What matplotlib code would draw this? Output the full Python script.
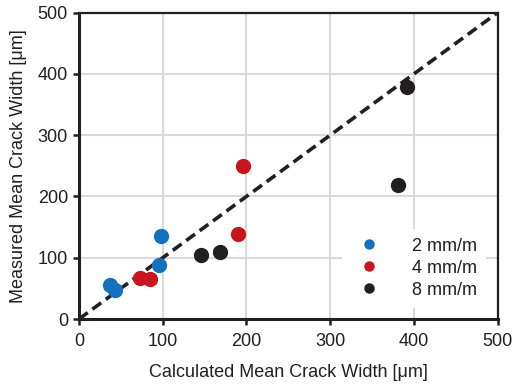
import matplotlib
matplotlib.use("Agg")
import matplotlib.pyplot as plt

plt.rcParams['font.family'] = ['Liberation Sans', 'DejaVu Sans']

# calculated vs measured mean crack width [um]
calc_2 = [37, 43, 98, 95]
meas_2 = [56, 47, 136, 88]
calc_4 = [73, 85, 190, 196]
meas_4 = [67, 65, 138, 249]
calc_8 = [146, 169, 381, 392]
meas_8 = [105, 109, 219, 379]

labels = ['2 mm/m', '4 mm/m', '8 mm/m']
colors = ['#1471bd', '#c8161f', '#231f20']

fig = plt.figure(figsize=(5.14, 3.85), dpi=100)
ax = fig.add_axes([0.1537, 0.1714, 0.8143, 0.7956])

ax.plot([0, 500], [0, 500], color='#231f20', lw=2.6, ls=(0, (3, 1.6)), zorder=2)

for cx, my, lab, c in zip([calc_2, calc_4, calc_8], [meas_2, meas_4, meas_8], labels, colors):
    ax.plot(cx, my, 'o', color=c, ms=10, label=lab, zorder=3, clip_on=False)

ax.set_xlim(0, 500)
ax.set_ylim(0, 500)
ax.set_xticks([0, 100, 200, 300, 400, 500])
ax.set_yticks([0, 100, 200, 300, 400, 500])
ax.grid(True, color='#d9d9d9', lw=1.5, zorder=0)
ax.set_axisbelow(True)

for side in ['left', 'bottom']:
    ax.spines[side].set_linewidth(2.2)
for side in ['top', 'right']:
    ax.spines[side].set_linewidth(1.6)
for s in ax.spines.values():
    s.set_color('#231f20')

ax.tick_params(direction='out', length=4, width=1.8, color='#231f20',
               labelsize=13, labelcolor='#231f20', pad=4)
ax.tick_params(axis='x', pad=6)

ax.set_xlabel('Calculated Mean Crack Width [μm]', fontsize=13, color='#231f20', labelpad=10)
ax.set_ylabel('Measured Mean Crack Width [μm]', fontsize=13, color='#231f20', labelpad=8)

leg = ax.legend(loc='center', bbox_to_anchor=(0.80, 0.166), frameon=True,
                framealpha=1, edgecolor='none', facecolor='white', markerscale=0.65,
                fontsize=13, handletextpad=1.4, labelspacing=0.28, borderpad=0.5)
for t in leg.get_texts():
    t.set_color('#231f20')

plt.savefig('out.png', dpi=100)
